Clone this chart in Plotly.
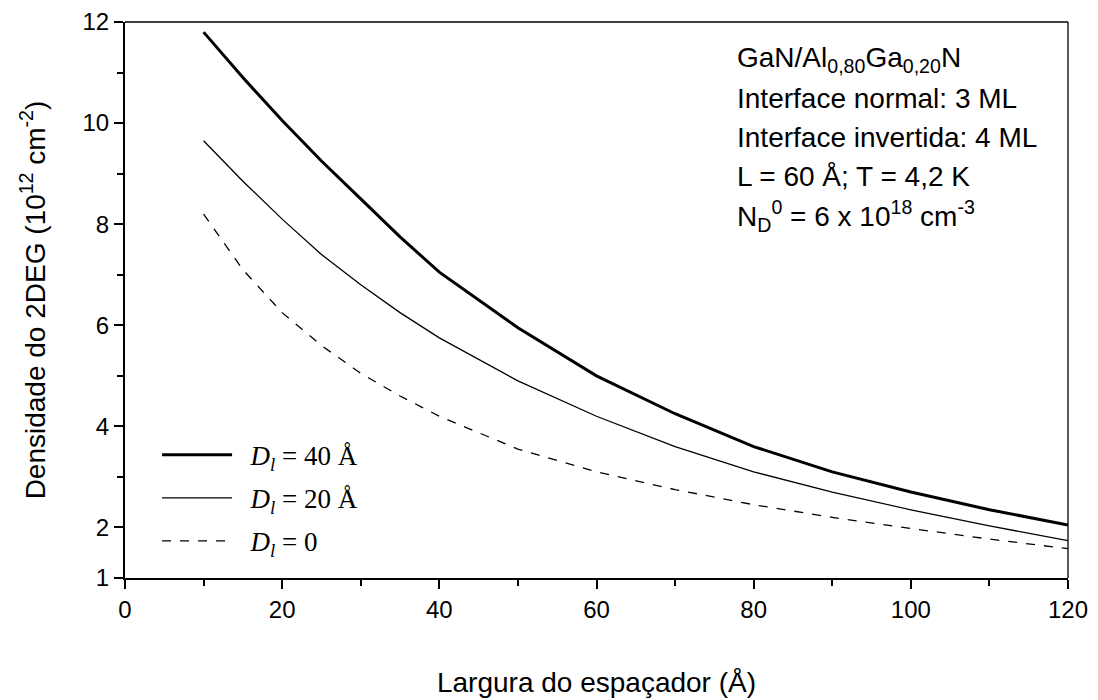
import plotly.graph_objects as go

# Spacer width (Å)
x_vals = [10, 15, 20, 25, 30, 35, 40, 50, 60, 70, 80, 90, 100, 110, 120]
# 2DEG density (1e12 cm^-2)
n_d40 = [11.8, 10.9, 10.05, 9.25, 8.5, 7.75, 7.05, 5.95, 5.0, 4.25, 3.6, 3.1, 2.7, 2.35, 2.05]
n_d20 = [9.65, 8.85, 8.1, 7.4, 6.8, 6.25, 5.75, 4.9, 4.2, 3.6, 3.1, 2.7, 2.35, 2.03, 1.74]
n_d0 = [8.2, 7.1, 6.25, 5.6, 5.05, 4.6, 4.2, 3.55, 3.1, 2.75, 2.45, 2.2, 1.98, 1.77, 1.58]

series_names = ["&nbsp;&nbsp;<i>D<sub>l</sub></i> = 40 Å",
                "&nbsp;&nbsp;<i>D<sub>l</sub></i> = 20 Å",
                "&nbsp;&nbsp;<i>D<sub>l</sub></i> = 0"]

x_ticks = [0, 20, 40, 60, 80, 100, 120]
x_minor = [10, 30, 50, 70, 90, 110]
y_ticks = [1, 2, 4, 6, 8, 10, 12]
y_minor = [3, 5, 7, 9, 11]

info_lines = [
    "GaN/Al<sub>0,80</sub>Ga<sub>0,20</sub>N",
    "Interface normal: 3 ML",
    "Interface invertida: 4 ML",
    "L = 60 Å; T = 4,2 K",
    "N<sub>D</sub><sup>0</sup> = 6 x 10<sup>18</sup> cm<sup>-3</sup>",
]

SANS = "Liberation Sans, Arial"
SERIF = "Liberation Serif, Times New Roman"

fig = go.Figure()
fig.add_trace(go.Scatter(x=x_vals, y=n_d40, mode="lines", name=series_names[0], legendgroup="a",
                         line=dict(color="black", width=3)))
fig.add_trace(go.Scatter(x=x_vals, y=n_d20, mode="lines", name=series_names[1], legendgroup="b",
                         line=dict(color="black", width=1.3)))
fig.add_trace(go.Scatter(x=x_vals, y=n_d0, mode="lines", name=series_names[2], legendgroup="c",
                         line=dict(color="black", width=1.3, dash="dash")))

tick_font = dict(family=SANS, size=24, color="black")

fig.update_xaxes(range=[0, 120], tickvals=x_ticks, ticks="outside", ticklen=9, tickwidth=2,
                 tickcolor="black", linecolor="black", linewidth=2, showline=True, mirror=False,
                 showgrid=False, zeroline=False, tickfont=tick_font,
                 minor=dict(tickvals=x_minor, ticks="outside", ticklen=6, tickwidth=2, tickcolor="black"),
                 title=dict(text="Largura do espaçador (Å)", standoff=51,
                            font=dict(family=SANS, size=28, color="black")))
fig.update_yaxes(range=[1, 12], tickvals=y_ticks, ticks="outside", ticklen=9, tickwidth=2,
                 tickcolor="black", linecolor="black", linewidth=2, showline=True, mirror=False,
                 showgrid=False, zeroline=False, tickfont=tick_font,
                 minor=dict(tickvals=y_minor, ticks="outside", ticklen=6, tickwidth=2, tickcolor="black"),
                 title=dict(text="Densidade do 2DEG (10<sup>12</sup> cm<sup>-2</sup>)", standoff=29,
                            font=dict(family=SANS, size=28, color="black")))

# thin top and right frame lines
fig.add_shape(type="line", xref="paper", yref="paper", x0=0, x1=1, y0=1, y1=1,
              line=dict(color="black", width=1.3))
fig.add_shape(type="line", xref="paper", yref="paper", x0=1, x1=1, y0=0, y1=1,
              line=dict(color="black", width=1.3))

line_y = [0.932, 0.863, 0.793, 0.723, 0.651]
for txt, yy in zip(info_lines, line_y):
    fig.add_annotation(text=txt, xref="paper", yref="paper", x=0.647, y=yy,
                       xanchor="left", yanchor="middle", showarrow=False,
                       font=dict(family=SANS, size=28, color="black"))

fig.update_layout(
    width=1098, height=700,
    margin=dict(l=117, r=38, t=14, b=130, autoexpand=False),
    paper_bgcolor="white", plot_bgcolor="white",
    showlegend=True,
    legend=dict(x=0.034, y=0.265, xanchor="left", yanchor="top",
                bgcolor="rgba(0,0,0,0)", borderwidth=0,
                font=dict(family=SERIF, size=27, color="black"),
                itemwidth=70, tracegroupgap=5),
)

fig.write_html("out.html")
